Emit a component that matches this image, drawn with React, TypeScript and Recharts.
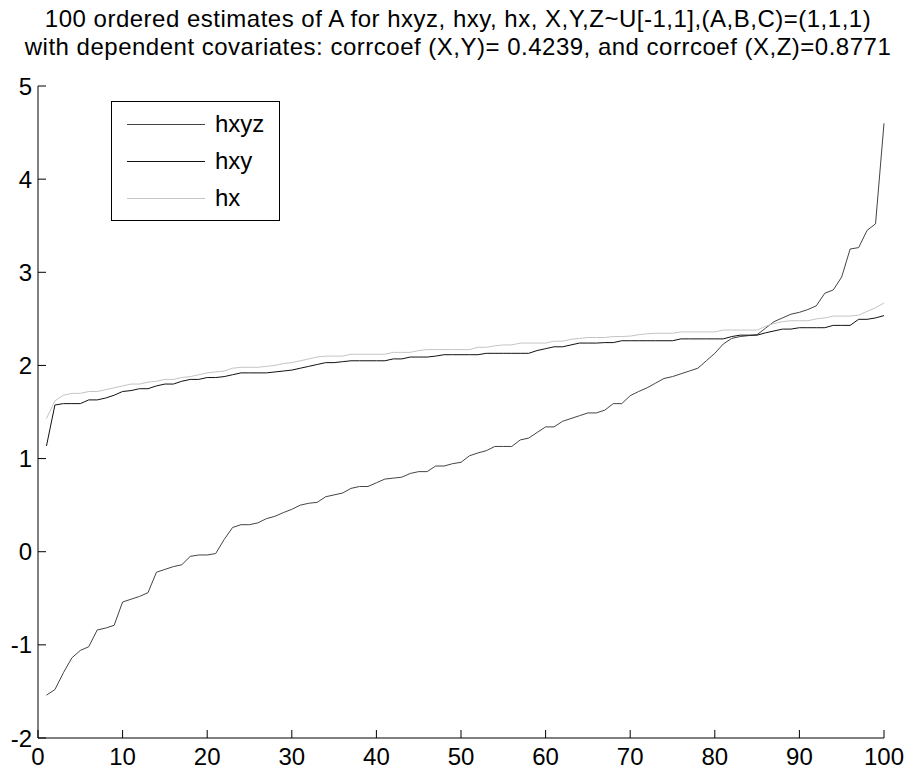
import React from 'react';
import { LineChart, Line, XAxis, YAxis } from 'recharts';

// ordered estimates of A, sample index 1..100
const HXYZ = [
  -1.54, -1.48, -1.3, -1.14, -1.06, -1.02, -0.84, -0.82, -0.79, -0.54,
  -0.51, -0.48, -0.44, -0.22, -0.19, -0.16, -0.14, -0.05, -0.035, -0.035,
  -0.02, 0.13, 0.26, 0.29, 0.29, 0.31, 0.355, 0.38, 0.42, 0.455,
  0.5, 0.52, 0.53, 0.59, 0.61, 0.63, 0.68, 0.7, 0.7, 0.74,
  0.78, 0.79, 0.8, 0.84, 0.86, 0.86, 0.92, 0.92, 0.945, 0.96,
  1.03, 1.06, 1.085, 1.13, 1.13, 1.13, 1.2, 1.22, 1.28, 1.34,
  1.34, 1.4, 1.43, 1.46, 1.49, 1.49, 1.52, 1.59, 1.59, 1.675,
  1.72, 1.76, 1.81, 1.86, 1.88, 1.91, 1.94, 1.97, 2.05, 2.13,
  2.23, 2.29, 2.31, 2.32, 2.33, 2.4, 2.47, 2.51, 2.55, 2.57,
  2.6, 2.64, 2.775, 2.81, 2.95, 3.25, 3.265, 3.45, 3.52, 4.6,
];

const HXY = [
  1.135, 1.575, 1.59, 1.59, 1.59, 1.63, 1.63, 1.65, 1.68, 1.72,
  1.73, 1.75, 1.75, 1.78, 1.8, 1.8, 1.83, 1.85, 1.85, 1.87,
  1.87, 1.88, 1.9, 1.92, 1.92, 1.92, 1.92, 1.93, 1.94, 1.95,
  1.97, 1.99, 2.01, 2.03, 2.03, 2.04, 2.05, 2.05, 2.05, 2.05,
  2.05, 2.07, 2.07, 2.09, 2.09, 2.09, 2.1, 2.115, 2.115, 2.115,
  2.115, 2.115, 2.13, 2.13, 2.13, 2.13, 2.13, 2.13, 2.16, 2.18,
  2.2, 2.2, 2.22, 2.24, 2.24, 2.24, 2.245, 2.245, 2.265, 2.265,
  2.265, 2.265, 2.265, 2.265, 2.265, 2.285, 2.285, 2.285, 2.285, 2.285,
  2.285, 2.31, 2.325, 2.325, 2.325, 2.35, 2.37, 2.39, 2.39, 2.405,
  2.405, 2.405, 2.405, 2.43, 2.43, 2.43, 2.495, 2.495, 2.51, 2.535,
];

const HX = [
  1.43, 1.62, 1.68, 1.7, 1.7, 1.72, 1.72, 1.74, 1.76, 1.78,
  1.8, 1.8, 1.82, 1.83, 1.85, 1.85, 1.87, 1.88, 1.9, 1.92,
  1.93, 1.94, 1.97, 1.98, 1.98, 1.98, 1.99, 2.0, 2.02, 2.03,
  2.05, 2.07, 2.09, 2.1, 2.1, 2.1, 2.12, 2.12, 2.12, 2.12,
  2.12, 2.14, 2.14, 2.14, 2.16, 2.17, 2.17, 2.17, 2.17, 2.17,
  2.17, 2.195, 2.195, 2.21, 2.22, 2.22, 2.24, 2.24, 2.24, 2.24,
  2.26, 2.26, 2.28, 2.29, 2.3, 2.3, 2.3, 2.31, 2.31, 2.315,
  2.33, 2.34, 2.345, 2.345, 2.345, 2.36, 2.36, 2.36, 2.36, 2.36,
  2.38, 2.38, 2.38, 2.38, 2.38, 2.42, 2.45, 2.47, 2.48, 2.48,
  2.48, 2.5, 2.51, 2.53, 2.53, 2.53, 2.54, 2.58, 2.62, 2.67,
];

const X_TICKS = [0, 10, 20, 30, 40, 50, 60, 70, 80, 90, 100];
const Y_TICKS = [-2, -1, 0, 1, 2, 3, 4, 5];

const SERIES = [
  { key: 'hxyz', color: '#444444' },
  { key: 'hxy', color: '#111111' },
  { key: 'hx', color: '#c4c4c4' },
];

const TITLE = [
  '100 ordered estimates of A for hxyz, hxy, hx, X,Y,Z~U[-1,1],(A,B,C)=(1,1,1)',
  'with dependent covariates: corrcoef (X,Y)= 0.4239, and corrcoef (X,Z)=0.8771',
];

const FONT = '"Liberation Sans", Arial, Helvetica, sans-serif';
const FONT_SIZE = 24;
const TICK_LEN = 8;

const data = HXYZ.map((v, i) => ({ n: i + 1, hxyz: v, hxy: HXY[i], hx: HX[i] }));

// MATLAB-style ticks point into the plot box
const BottomTick = (props: any) => {
  const { x, y, payload } = props;
  return (
    <g>
      <line x1={x} y1={y} x2={x} y2={y - TICK_LEN} stroke="#000" />
      <text x={x} y={y + 27} textAnchor="middle" fontSize={FONT_SIZE} fontFamily={FONT} fill="#000">
        {payload.value}
      </text>
    </g>
  );
};

const TopTick = (props: any) => {
  const { x, y } = props;
  return <line x1={x} y1={y} x2={x} y2={y + TICK_LEN} stroke="#000" />;
};

const LeftTick = (props: any) => {
  const { x, y, payload } = props;
  return (
    <g>
      <line x1={x} y1={y} x2={x + TICK_LEN} y2={y} stroke="#000" />
      <text x={x - 6} y={y + 8.5} textAnchor="end" fontSize={FONT_SIZE} fontFamily={FONT} fill="#000">
        {payload.value}
      </text>
    </g>
  );
};

const RightTick = (props: any) => {
  const { x, y } = props;
  return <line x1={x} y1={y} x2={x - TICK_LEN} y2={y} stroke="#000" />;
};

export default function App() {
  return (
    <div style={{ position: 'absolute', left: 0, top: 0, width: 908, height: 769, background: '#fff' }}>
      <div
        style={{
          position: 'absolute',
          left: 0,
          top: 5,
          width: 908,
          paddingLeft: 8,
          boxSizing: 'border-box',
          textAlign: 'center',
          fontFamily: FONT,
          fontSize: FONT_SIZE,
          letterSpacing: 0.5,
          lineHeight: '28px',
          color: '#000',
          whiteSpace: 'nowrap',
        }}
      >
        {TITLE.map((t) => (
          <div key={t}>{t}</div>
        ))}
      </div>

      <LineChart width={908} height={769} data={data} margin={{ top: 86, right: 24, bottom: 0, left: 0 }}>
        <XAxis
          dataKey="n"
          type="number"
          domain={[0, 100]}
          ticks={X_TICKS}
          height={31}
          tickSize={0}
          tickMargin={0}
          tickLine={false}
          tick={<BottomTick />}
          axisLine={{ stroke: '#000' }}
          interval={0}
        />
        <XAxis
          xAxisId="top"
          orientation="top"
          dataKey="n"
          type="number"
          domain={[0, 100]}
          ticks={X_TICKS}
          height={0}
          tickSize={0}
          tickMargin={0}
          tickLine={false}
          tick={<TopTick />}
          axisLine={{ stroke: '#000' }}
          interval={0}
        />
        <YAxis
          type="number"
          domain={[-2, 5]}
          ticks={Y_TICKS}
          width={38}
          tickSize={0}
          tickMargin={0}
          tickLine={false}
          tick={<LeftTick />}
          axisLine={{ stroke: '#000' }}
          interval={0}
        />
        <YAxis
          yAxisId="right"
          orientation="right"
          type="number"
          domain={[-2, 5]}
          ticks={Y_TICKS}
          width={0}
          tickSize={0}
          tickMargin={0}
          tickLine={false}
          tick={<RightTick />}
          axisLine={{ stroke: '#000' }}
          interval={0}
        />
        {SERIES.map((s) => (
          <Line
            key={s.key}
            dataKey={s.key}
            type="linear"
            stroke={s.color}
            strokeWidth={1}
            dot={false}
            activeDot={false}
            isAnimationActive={false}
          />
        ))}
      </LineChart>

      <div
        style={{
          position: 'absolute',
          left: 111,
          top: 101,
          width: 167,
          height: 118,
          border: '1px solid #000',
          background: '#fff',
          fontFamily: FONT,
          fontSize: FONT_SIZE,
        }}
      >
        {SERIES.map((s, i) => (
          <div key={s.key} style={{ position: 'absolute', left: 15, top: 7 + i * 37, height: 30, display: 'flex', alignItems: 'center' }}>
            <div style={{ width: 78, height: 0, borderTop: `1px solid ${s.color}` }} />
            <span style={{ marginLeft: 10, color: '#000' }}>{s.key}</span>
          </div>
        ))}
      </div>
    </div>
  );
}
